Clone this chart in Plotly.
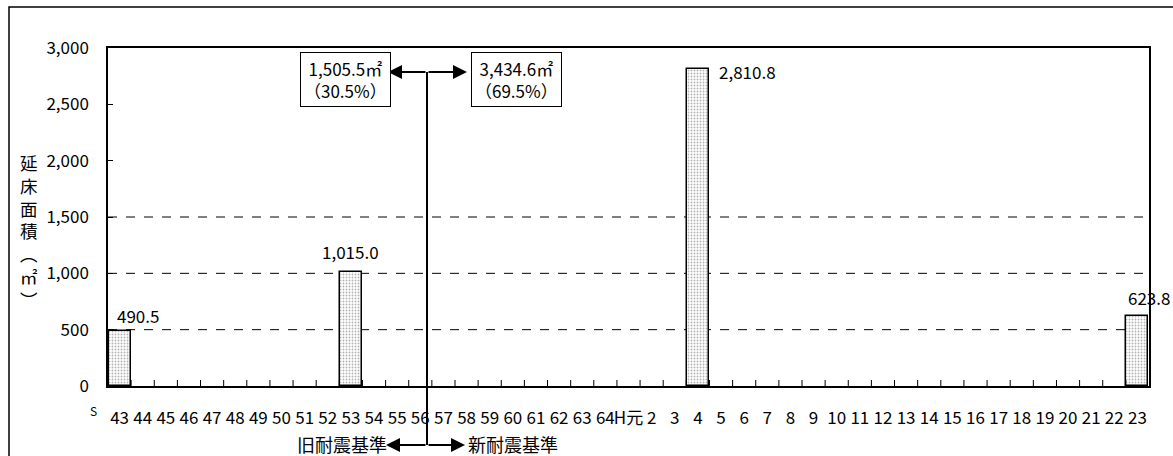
import plotly.graph_objects as go

# ---------------- data ----------------
showa_labels = ["43", "44", "45", "46", "47", "48", "49", "50", "51", "52", "53",
                "54", "55", "56", "57", "58", "59", "60", "61", "62", "63", "64"]
heisei_labels = ["H元", "2", "3", "4", "5", "6", "7", "8", "9", "10", "11", "12",
                 "13", "14", "15", "16", "17", "18", "19", "20", "21", "22", "23"]
# Showa and Heisei years share no labels, so each tick label is a unique category
categories = showa_labels + heisei_labels

bar_positions = [0, 10, 25, 44]          # index into categories: S43, S53, H4, H23
bar_values = [490.5, 1015.0, 2810.8, 623.8]
bar_texts = ["490.5", "1,015.0", "2,810.8", "623.8"]

y_ticks = [0, 500, 1000, 1500, 2000, 2500, 3000]
grid_values = [500, 1000, 1500]

old_total = "1,505.5㎡<br>（30.5%）"
new_total = "3,434.6㎡<br>（69.5%）"
y_title = "延<br>床<br>面<br>積<br>︵<br>㎡<br>︶"

# ---------------- layout helpers ----------------
W, H = 1173, 456
ML, MR, MT, MB = 108, 24, 48, 70
PW, PH = W - ML - MR, H - MT - MB


def px_x(px):
    return (px - ML) / PW


def px_y(py):
    return (H - MB - py) / PH


FONT = "Noto Sans CJK JP"
FS = 18
TICK_LEN = 6

y_vals = [None] * len(categories)
for i, v in zip(bar_positions, bar_values):
    y_vals[i] = v

fig = go.Figure()
fig.add_trace(go.Bar(
    x=categories, y=y_vals,
    marker=dict(color="white",
                line=dict(color="black", width=1.5),
                pattern=dict(shape=".", fgcolor="#666", bgcolor="white",
                             size=3, solidity=0.3)),
    width=0.95,
    showlegend=False, hoverinfo="skip",
))

shapes = []
for g in grid_values:
    shapes.append(dict(type="line", xref="paper", yref="y", x0=0, x1=1, y0=g, y1=g,
                       line=dict(color="black", width=1, dash="dash"), layer="below"))
# category boundary ticks on the x axis (pointing inward)
for k in range(len(categories) - 1):
    shapes.append(dict(type="line", xref="x", yref="paper", x0=k + 0.5, x1=k + 0.5,
                       y0=0, y1=TICK_LEN / PH, line=dict(color="black", width=1)))
# outer frame
shapes.append(dict(type="rect", xref="paper", yref="paper",
                   x0=px_x(9), x1=px_x(1185), y0=px_y(470), y1=px_y(7),
                   line=dict(color="black", width=1.5)))
# divider line between old/new seismic standard
DIV = 427
shapes.append(dict(type="line", xref="paper", yref="paper",
                   x0=px_x(DIV), x1=px_x(DIV), y0=px_y(72), y1=px_y(445),
                   line=dict(color="black", width=2)))

annotations = []
# value labels
label_offsets = [(18, 15), (0, 20), (50, -2), (12, 18)]
for i, v, t, (dx, dy) in zip(bar_positions, bar_values, bar_texts, label_offsets):
    annotations.append(dict(x=i, y=v, xref="x", yref="y", text=t, showarrow=False,
                            xshift=dx, yshift=dy, xanchor="center", yanchor="middle",
                            font=dict(family=FONT, size=FS - 1, color="black")))

# arrows
arrow_style = dict(showarrow=True, arrowhead=2, arrowsize=1.4, arrowwidth=2,
                   arrowcolor="black", text="", xref="paper", yref="paper",
                   axref="pixel", ayref="pixel")
for tip_x, tip_y in [(388, 72), (467, 72), (386, 445), (465, 445)]:
    annotations.append(dict(x=px_x(tip_x), y=px_y(tip_y), ax=DIV - tip_x, ay=0,
                            **arrow_style))

# boxes
for cx, txt in [(345, old_total), (516.5, new_total)]:
    annotations.append(dict(x=px_x(cx), y=px_y(79), xref="paper", yref="paper",
                            text=txt, showarrow=False, align="center",
                            xanchor="center", yanchor="middle",
                            bordercolor="black", borderwidth=1, borderpad=3,
                            bgcolor="white",
                            font=dict(family=FONT, size=FS - 1, color="black")))

# standard labels
annotations.append(dict(x=px_x(389), y=px_y(444), xref="paper", yref="paper",
                        text="旧耐震基準", showarrow=False, xanchor="right",
                        yanchor="middle",
                        font=dict(family=FONT, size=FS, color="black")))
annotations.append(dict(x=px_x(466), y=px_y(444), xref="paper", yref="paper",
                        text="新耐震基準", showarrow=False, xanchor="left",
                        yanchor="middle",
                        font=dict(family=FONT, size=FS, color="black")))
# era marker
annotations.append(dict(x=px_x(93), y=px_y(410), xref="paper", yref="paper",
                        text="S", showarrow=False, xanchor="center", yanchor="middle",
                        font=dict(family=FONT, size=12, color="black")))
# y title
annotations.append(dict(x=px_x(29), y=px_y(231), xref="paper", yref="paper",
                        text=y_title, showarrow=False, align="center",
                        xanchor="center", yanchor="middle",
                        font=dict(family=FONT, size=17.5, color="black")))

fig.update_layout(
    width=W, height=H,
    margin=dict(l=ML, r=MR, t=MT, b=MB, pad=0),
    paper_bgcolor="white", plot_bgcolor="white",
    bargap=0.0,
    font=dict(family=FONT, size=FS, color="black"),
    shapes=shapes, annotations=annotations,
    xaxis=dict(type="category", categoryorder="array", categoryarray=categories,
               tickmode="linear", tick0=0, dtick=1,
               tickangle=0, ticks="",
               showline=True, linecolor="black", linewidth=2, mirror=True,
               showgrid=False, zeroline=False, ticklabelstandoff=16,
               tickfont=dict(family=FONT, size=FS - 1),
               range=[-0.5, len(categories) - 0.5]),
    yaxis=dict(range=[0, 3000], tickmode="array", tickvals=y_ticks,
               ticktext=[f"{v:,}" for v in y_ticks],
               ticks="inside", ticklen=5, tickcolor="black", tickwidth=1,
               showline=True, linecolor="black", linewidth=1.5, mirror=True,
               showgrid=False, zeroline=False, ticklabelstandoff=14,
               tickfont=dict(family=FONT, size=FS - 1)),
)

fig.write_html("out.html")
